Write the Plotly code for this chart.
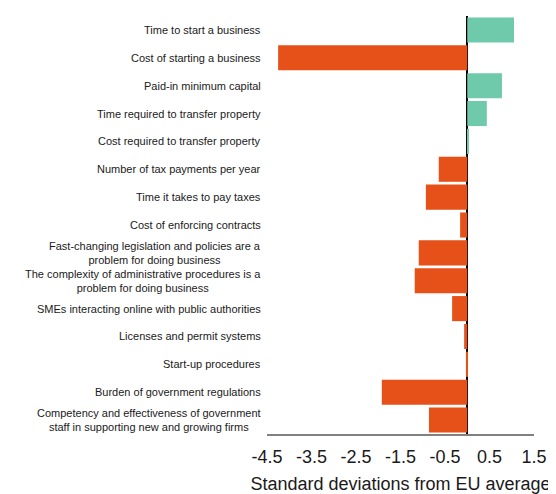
import plotly.graph_objects as go

categories = [
    "Time to start a business",
    "Cost of starting a business",
    "Paid-in minimum capital",
    "Time required to transfer property",
    "Cost required to transfer property",
    "Number of tax payments per year",
    "Time it takes to pay taxes",
    "Cost of enforcing contracts",
    "Fast-changing legislation and policies are a<br>problem for doing business",
    "The complexity of administrative procedures is a<br>problem for doing business",
    "SMEs interacting online with public authorities",
    "Licenses and permit systems",
    "Start-up procedures",
    "Burden of government regulations",
    "Competency and effectiveness of government<br>staff in supporting new and growing firms",
]
values = [1.05, -4.25, 0.78, 0.44, 0.02, -0.64, -0.93, -0.16, -1.09, -1.18,
          -0.34, -0.07, -0.03, -1.92, -0.86]
tick_vals = [-4.5, -3.5, -2.5, -1.5, -0.5, 0.5, 1.5]
tick_text = ["-4.5", "-3.5", "-2.5", "-1.5", "-0.5", "0.5", "1.5"]

GREEN = "#6fc9ab"
ORANGE = "#e55118"
colors = [GREEN if v > 0 else ORANGE for v in values]

idx = list(range(len(categories)))

fig = go.Figure()
fig.add_trace(go.Bar(
    x=values, y=idx, orientation="h",
    marker=dict(color=colors, line=dict(width=0)),
    hoverinfo="x",
))

annotations = []
for i, c in zip(idx, categories):
    annotations.append(dict(
        x=0, xref="paper", y=i, yref="y", text=c,
        xanchor="right", yanchor="middle", align="center",
        xshift=-4, showarrow=False,
        font=dict(family="Liberation Sans, Arial, sans-serif", size=11, color="#1a1a1a"),
    ))

fig.update_layout(
    width=548, height=486,
    margin=dict(l=259, r=22, t=7.5, b=59.5),
    paper_bgcolor="white", plot_bgcolor="white",
    bargap=0.1,
    showlegend=False,
    annotations=annotations,
    font=dict(family="Liberation Sans, Arial, sans-serif", color="#1a1a1a"),
    xaxis=dict(
        range=[-4.5, 1.5],
        automargin=False,
        tickvals=tick_vals, ticktext=tick_text,
        tickfont=dict(size=18, color="#1a1a1a"),
        showgrid=False,
        zeroline=True, zerolinecolor="black", zerolinewidth=1.5,
        showline=True, linecolor="#808080", linewidth=2,
        ticks="outside", ticklen=5, tickcolor="rgba(0,0,0,0)",
        title=dict(text="Standard deviations from EU average",
                   font=dict(size=18, color="#1a1a1a"), standoff=13),
    ),
    yaxis=dict(
        range=[len(categories) - 0.5, -0.5],
        automargin=False,
        showticklabels=False, showgrid=False, zeroline=False,
        showline=False, ticks="",
    ),
)

fig.write_html("out.html")
